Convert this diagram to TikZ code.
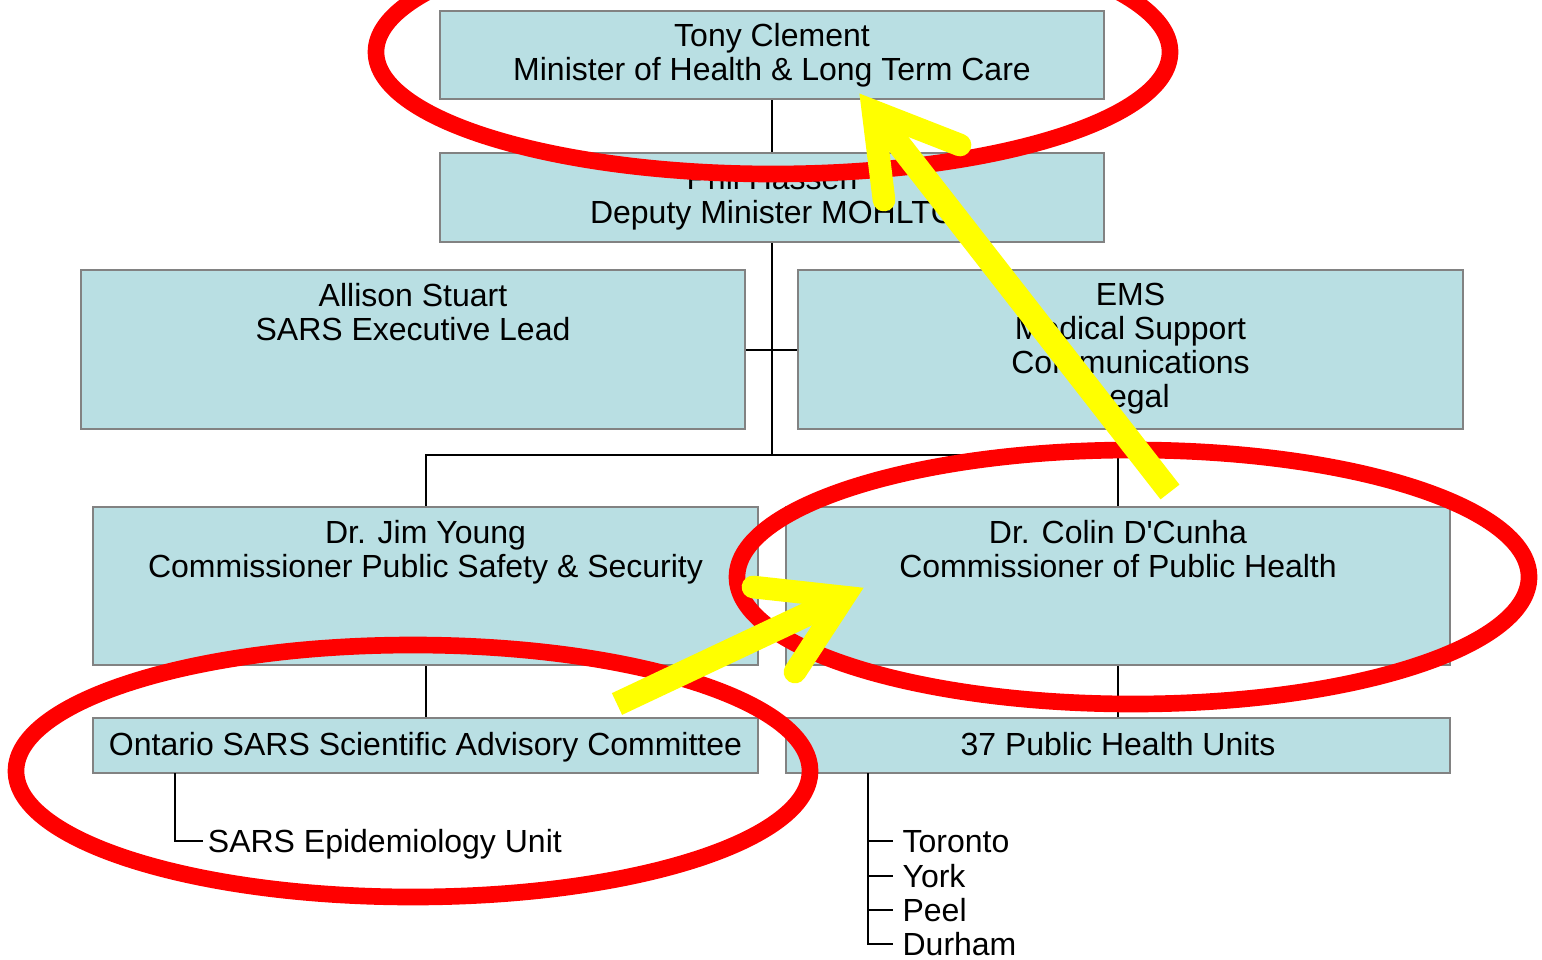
\documentclass[tikz,border=0pt]{standalone}
\usepackage{fontspec}
\setmainfont{Liberation Sans}
\definecolor{boxfill}{RGB}{185,223,227}
\definecolor{boxgray}{RGB}{130,130,130}
\definecolor{ringred}{RGB}{255,0,0}
\definecolor{hiyellow}{RGB}{255,255,0}
\begin{document}
\begin{tikzpicture}[x=0.75pt,y=-0.75pt,
  box/.style 2 args={draw=boxgray, line width=1.5pt, fill=boxfill, inner sep=0pt,
    minimum width=#1*0.75pt, minimum height=#2*0.75pt},
  txt/.style={font=\fontsize{24}{25.5}\selectfont, align=center, inner sep=0pt, anchor=north},
  leaf/.style={font=\fontsize{24}{25.5}\selectfont, inner ysep=0pt, inner xsep=7pt, anchor=west,
    text height=17.2pt, text depth=0pt},
  link/.style={line width=1.5pt, draw=black},
  ring/.style={draw=ringred, line width=12.5pt},
  shaft/.style={draw=hiyellow, line width=18pt, line cap=butt},
  head/.style={draw=hiyellow, line width=17pt, line cap=round, line join=miter, miter limit=10}]
\clip (0,0) rectangle (1542,960);
\fill[white] (0,0) rectangle (1542,960);

% boxes
\node[box={664}{88}]  (tony)    at (772,55)      {};
\node[box={664}{89}]  (phil)    at (772,197.5)   {};
\node[box={664}{159}] (allison) at (413,349.5)   {};
\node[box={665}{159}] (ems)     at (1130.5,349.5){};
\node[box={665}{158}] (jim)     at (425.5,586)   {};
\node[box={664}{158}] (colin)   at (1118,586)    {};
\node[box={665}{55}]  (ontario) at (425.5,745.5) {};
\node[box={664}{55}]  (phu)     at (1118,745.5)  {};

% box texts
\node[txt] (tonyt)    at (772,23)    {Tony Clement\\Minister of Health \& Long Term Care};
\node[txt] (philt)    at (772,166)   {Phil Hassen\\Deputy Minister MOHLTC};
\node[txt] (allisont) at (413,283)   {Allison Stuart\\SARS Executive Lead};
\node[txt] (emst)     at (1130.5,283){EMS\\Medical Support\\Communications\\Legal};
\node[txt] (jimt)     at (425.5,520) {Dr. Jim Young\\Commissioner Public Safety \& Security};
\node[txt] (colint)   at (1118,520)  {Dr. Colin D\textquotesingle Cunha\\Commissioner of Public Health};
\node[txt] (ontariot) at (425.5,732) {Ontario SARS Scientific Advisory Committee};
\node[txt] (phut)     at (1118,732)  {37 Public Health Units};

% leaves
\node[leaf, inner xsep=3.5pt] (epi) at (203,841) {SARS Epidemiology Unit};
\node[leaf] (toronto) at (893,841) {Toronto};
\node[leaf] (york)    at (893,876) {York};
\node[leaf] (peel)    at (893,910) {Peel};
\node[leaf] (durham)  at (893,944) {Durham};

% connectors
\coordinate (j1) at (772,455);
\coordinate (ov) at (175,773);
\coordinate (pv) at (868,773);
\draw[link] (tony.south) -- (phil.north);
\draw[link] (phil.south) -- (j1);
\draw[link] (allison.east) -- (ems.west);
\draw[link] (j1) -| (jim.north);
\draw[link] (j1) -| (colin.north);
\draw[link] (jim.south) -- (ontario.north);
\draw[link] (colin.south) -- (phu.north);
\draw[link] (ov) |- (epi.west);
\draw[link] (pv) |- (toronto.west);
\draw[link] (pv) |- (york.west);
\draw[link] (pv) |- (peel.west);
\draw[link] (pv) |- (durham.west);

% red ellipses
\draw[ring] (773,52) ellipse [x radius=397, y radius=122];
\draw[ring] (1133,577) ellipse [x radius=396, y radius=127];
\draw[ring] (413,771) ellipse [x radius=397, y radius=126];

% yellow arrows
\coordinate (a1tail) at (1170,492);
\coordinate (a1v) at (873,111);
\coordinate (a1b1) at (884,200);
\coordinate (a1b2) at (960,145);
\draw[shaft] (a1tail) -- (a1v);
\draw[head] (a1b1) -- (a1v) -- (a1b2);

\coordinate (a2tail) at (617,704);
\coordinate (a2v) at (844,597);
\coordinate (a2b1) at (753,587);
\coordinate (a2b2) at (795,672);
\draw[shaft] (a2tail) -- (a2v);
\draw[head] (a2b1) -- (a2v) -- (a2b2);
\end{tikzpicture}
\end{document}
